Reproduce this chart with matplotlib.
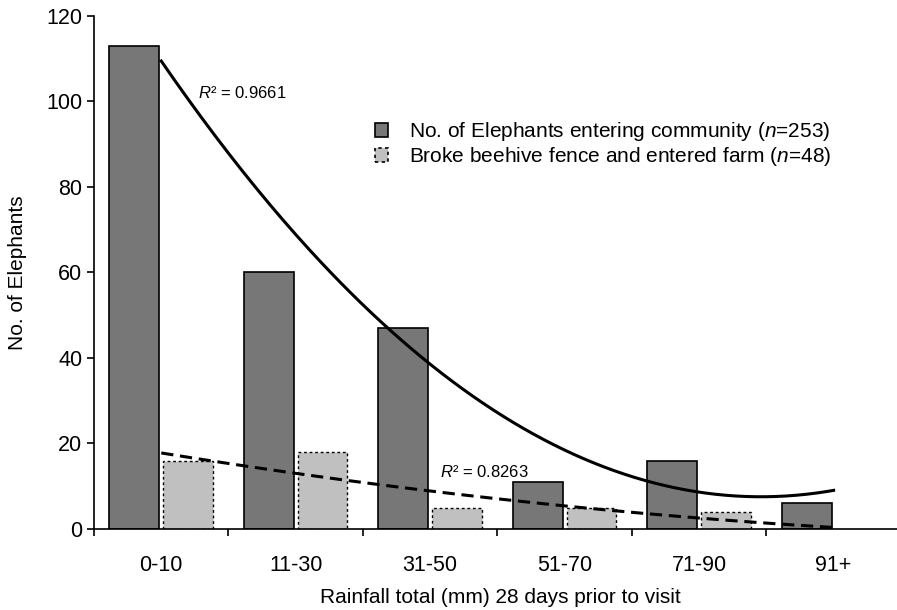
import numpy as np
import matplotlib

matplotlib.use("Agg")
import matplotlib.pyplot as plt
from matplotlib.patches import Patch

plt.rcParams["font.family"] = ["Liberation Sans", "DejaVu Sans"]
plt.rcParams["mathtext.fontset"] = "custom"
plt.rcParams["mathtext.rm"] = "Liberation Sans"
plt.rcParams["mathtext.it"] = "Liberation Sans:italic"

categories = ["0-10", "11-30", "31-50", "51-70", "71-90", "91+"]
entering = [113, 60, 47, 11, 16, 6]
broke_fence = [16, 18, 5, 5, 4, 0]

x = np.arange(len(categories))
bw = 0.37
off = 0.2

fig = plt.figure(figsize=(8.97, 6.10), dpi=100)
ax = fig.add_axes([0.1048, 0.1328, 0.895, 0.841])

ax.bar(x - off, entering, bw, color="#777777", edgecolor="black", linewidth=1.2)
mask = np.array(broke_fence) > 0
ax.bar(x[mask] + off, np.array(broke_fence)[mask], bw, color="#c0c0c0",
       edgecolor="black", linewidth=1.0, linestyle=(0, (2, 2)))

# second-order polynomial trendlines
xs = np.linspace(0, len(categories) - 1, 200)
for vals, ls, r2pos in [(entering, "-", (0.27, 102)), (broke_fence, (0, (4, 2.2)), (2.07, 13.3))]:
    coef = np.polyfit(x, vals, 2)
    fit = np.polyval(coef, x)
    r2 = 1 - np.sum((np.array(vals) - fit) ** 2) / np.sum((np.array(vals) - np.mean(vals)) ** 2)
    ax.plot(xs, np.polyval(coef, xs), color="black", linestyle=ls, linewidth=2.2)
    ax.text(r2pos[0], r2pos[1], rf"$R$² = {r2:.4f}", fontsize=12, va="center")

ax.set_xlim(-0.5, 5.47)
ax.set_ylim(0, 120)
ax.set_yticks([0, 20, 40, 60, 80, 100, 120])
ax.set_xticks(x)
ax.set_xticklabels(categories)
ax.set_xticks(np.arange(-0.5, 5.0, 1.0), minor=True)
ax.tick_params(axis="x", which="major", length=0, pad=19, labelsize=15.5)
ax.tick_params(axis="x", which="minor", length=5, width=1.2, direction="out")
ax.tick_params(axis="y", length=5, width=1.2, direction="out", labelsize=15.5)
ax.spines["top"].set_visible(False)
ax.spines["right"].set_visible(False)
ax.spines["left"].set_linewidth(1.2)
ax.spines["bottom"].set_linewidth(1.2)

ax.set_xlabel("Rainfall total (mm) 28 days prior to visit", fontsize=15)
ax.xaxis.set_label_coords(0.506, -0.115)
ax.set_ylabel("No. of Elephants", fontsize=15, labelpad=14)

handles = [
    Patch(facecolor="#777777", edgecolor="black", linewidth=1.2),
    Patch(facecolor="#c0c0c0", edgecolor="black", linewidth=1.2, linestyle=(0, (2, 2))),
]
labels = [
    r"No. of Elephants entering community ($n$=253)",
    r"Broke beehive fence and entered farm ($n$=48)",
]
fig.legend(handles, labels, loc="upper left", bbox_to_anchor=(0.418, 0.803),
           frameon=False, fontsize=15, handlelength=0.65, handleheight=0.65,
           handletextpad=1.0, labelspacing=0.1, borderaxespad=0, borderpad=0)

fig.savefig("out.png", dpi=100)
